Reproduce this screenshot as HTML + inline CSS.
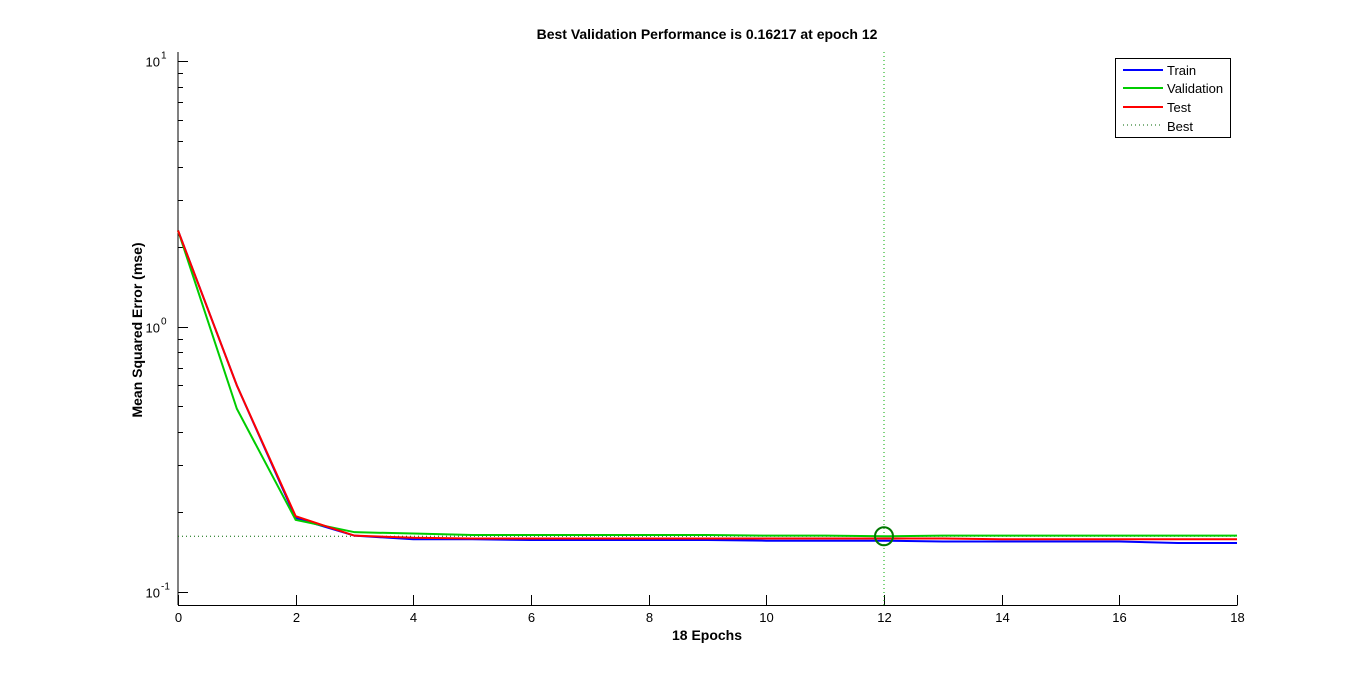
<!DOCTYPE html>
<html><head><meta charset="utf-8"><style>
body{margin:0;background:#fff;}
svg{display:block;font-family:"Liberation Sans",Arial,sans-serif;}
</style></head><body>
<svg id="chart" width="1367" height="680" viewBox="0 0 1367 680">
<rect width="1367" height="680" fill="#fff"/>
<text x="707" y="39" font-size="14" font-weight="bold" text-anchor="middle">Best Validation Performance is 0.16217 at epoch 12</text>
<text x="707" y="640" font-size="14" font-weight="bold" text-anchor="middle">18 Epochs</text>
<text transform="translate(142,330) rotate(-90)" font-size="14" font-weight="bold" text-anchor="middle">Mean Squared Error  (mse)</text>
<g id="axes"></g>
<g id="series"></g>
<g>
<rect x="1115.5" y="58.5" width="115" height="79" fill="#fff" stroke="#000"/>
<line x1="1123" y1="70" x2="1163" y2="70" stroke="#0000ff" stroke-width="2"/>
<text x="1167" y="75" font-size="13">Train</text>
<line x1="1123" y1="88" x2="1163" y2="88" stroke="#00cc00" stroke-width="2"/>
<text x="1167" y="93" font-size="13">Validation</text>
<line x1="1123" y1="107" x2="1163" y2="107" stroke="#ff0000" stroke-width="2"/>
<text x="1167" y="112" font-size="13">Test</text>
<line x1="1123" y1="125" x2="1163" y2="125" stroke="#006600" stroke-width="1" stroke-dasharray="1,3"/>
<text x="1167" y="131" font-size="13">Best</text>
</g>
</svg>
<script>
const epochs=[0,1,2,3,4,5,6,7,8,9,10,11,12,13,14,15,16,17,18];
const train=[2.3,0.6,0.19,0.163,0.158,0.158,0.157,0.157,0.157,0.157,0.156,0.156,0.156,0.155,0.155,0.155,0.155,0.153,0.153];
const validation=[2.3,0.49,0.187,0.168,0.166,0.164,0.164,0.164,0.164,0.164,0.163,0.163,0.16217,0.163,0.163,0.163,0.163,0.163,0.163];
const test=[2.3,0.6,0.193,0.163,0.16,0.159,0.159,0.159,0.159,0.159,0.159,0.159,0.159,0.159,0.158,0.158,0.158,0.158,0.158];
const bestEpoch=12, bestValue=0.16217;
const xTicks=[0,2,4,6,8,10,12,14,16,18];
const ns="http://www.w3.org/2000/svg";
const X0=178,X1=1237,YB=605,YT=52;
const LTOP=1.034,LBOT=-1.049;
const xs=v=>X0+(v-0)/(18-0)*(X1-X0);
const ys=v=>YB-(Math.log10(v)-LBOT)/(LTOP-LBOT)*(YB-YT);
function mk(t,a,p){const e=document.createElementNS(ns,t);for(const k in a)e.setAttribute(k,a[k]);p.appendChild(e);return e;}
const ax=document.getElementById('axes'),sr=document.getElementById('series');
let l=mk('line',{x1:X0,y1:YT,x2:X0,y2:YB,stroke:'#000'},ax);


l=mk('line',{x1:X0,y1:YB+0.5,x2:X1+0.5,y2:YB+0.5,stroke:'#000'},ax);


xTicks.forEach(t=>{const x=Math.round(xs(t))+0.5;
mk('line',{x1:x,y1:YB,x2:x,y2:YB-10,stroke:'#000'},ax);
const tx=mk('text',{x:x,y:YB+17,'font-size':13,'text-anchor':'middle'},ax);tx.textContent=t;

});
[-1,0,1].forEach(p=>{const y=Math.round(ys(Math.pow(10,p)))+0.5;
mk('line',{x1:X0,y1:y,x2:X0+10,y2:y,stroke:'#000'},ax);
const tx=mk('text',{x:X0-18,y:y+5,'font-size':13,'text-anchor':'end'},ax);tx.textContent='10';


const s=mk('text',{x:X0-17,y:y-3,'font-size':10},ax);s.textContent=p;


if(p<1)for(let m=2;m<10;m++){const yy=Math.round(ys(m*Math.pow(10,p)))+0.5;if(yy>YT)mk('line',{x1:X0,y1:yy,x2:X0+5,y2:yy,stroke:'#000'},ax);}});
l=mk('line',{x1:X0,y1:ys(bestValue),x2:X1,y2:ys(bestValue),stroke:'#006600','stroke-dasharray':'1,3'},sr);


l=mk('line',{x1:xs(bestEpoch),y1:YT,x2:xs(bestEpoch),y2:YB,stroke:'#00aa00','stroke-dasharray':'1,3'},sr);


function line(arr,col,name){const p=mk('polyline',{points:arr.map((v,i)=>xs(epochs[i])+','+ys(v)).join(' '),fill:'none',stroke:col,'stroke-width':2},sr);

}
line(train,'#0000ff','train-line');
line(validation,'#00cc00','validation-line');
line(test,'#ff0000','test-line');
const c=mk('circle',{cx:xs(bestEpoch),cy:ys(bestValue),r:9,fill:'none',stroke:'#007700','stroke-width':2},sr);


</script>
</body></html>
